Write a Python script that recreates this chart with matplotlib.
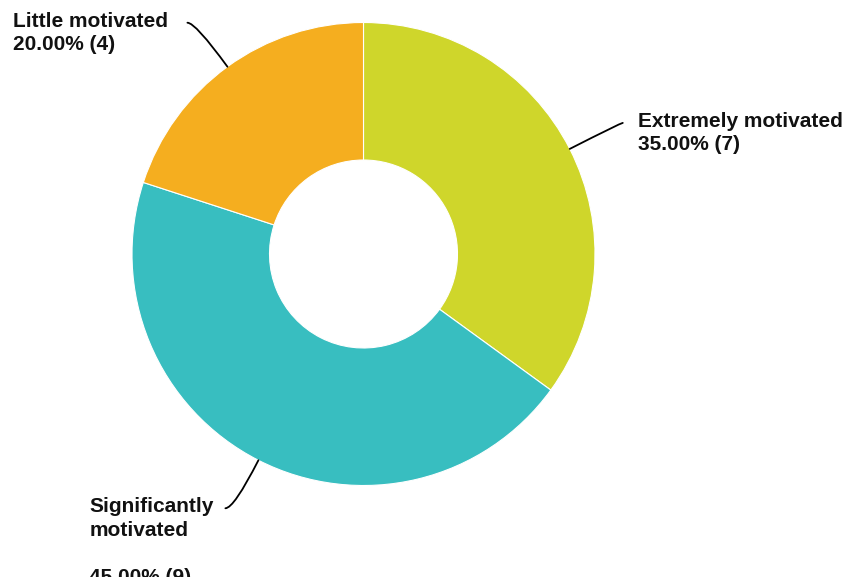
import numpy as np
import matplotlib
matplotlib.use("Agg")
import matplotlib.pyplot as plt

labels = ["Extremely motivated", "Significantly motivated", "Little motivated"]
counts = [7, 9, 4]
colors = ["#CFD62B", "#38BEC0", "#F5AE1F"]
label_text = [
    "Extremely motivated\n35.00% (7)",
    "Significantly\nmotivated\n\n45.00% (9)",
    "Little motivated\n20.00% (4)",
]

W, H = 848, 577
cx, cy, R = 363.5, 254, 231.5

plt.rcParams["font.family"] = ["Liberation Sans", "DejaVu Sans"]

fig = plt.figure(figsize=(W / 100, H / 100), dpi=100)
ax = fig.add_axes([0, 0, 1, 1])

wedges, _ = ax.pie(counts, colors=colors, startangle=90, counterclock=False,
                   radius=1, wedgeprops=dict(width=0.594, edgecolor="white", linewidth=0.8))
ax.set_aspect("auto")
ax.set_xlim(-cx / R, (W - cx) / R)
ax.set_ylim(-(H - cy) / R, cy / R)
ax.axis("off")

# leader line end offsets (pixels) and text placement relative to that end
line_off = [(53, -26), (-33, 48), (-40, -44)]
text_dx = [15, -136, -174]

for w, txt, off, dx in zip(wedges, label_text, line_off, text_dx):
    ang = np.deg2rad((w.theta1 + w.theta2) / 2)
    ex, ey = np.cos(ang), np.sin(ang)
    lx, ly = ex + off[0] / R, ey - off[1] / R
    ax.annotate("", xy=(ex, ey), xytext=(lx, ly),
                arrowprops=dict(arrowstyle="-", color="black", lw=1.3,
                                shrinkA=0, shrinkB=0,
                                connectionstyle=f"angle3,angleA=0,angleB={np.rad2deg(ang):.1f}"))
    ax.text(lx + dx / R, ly + 11 / R, txt, ha="left", va="top",
            fontsize=15, fontweight="bold", color="#111111", linespacing=1.3)

fig.savefig("out.png", dpi=100)
